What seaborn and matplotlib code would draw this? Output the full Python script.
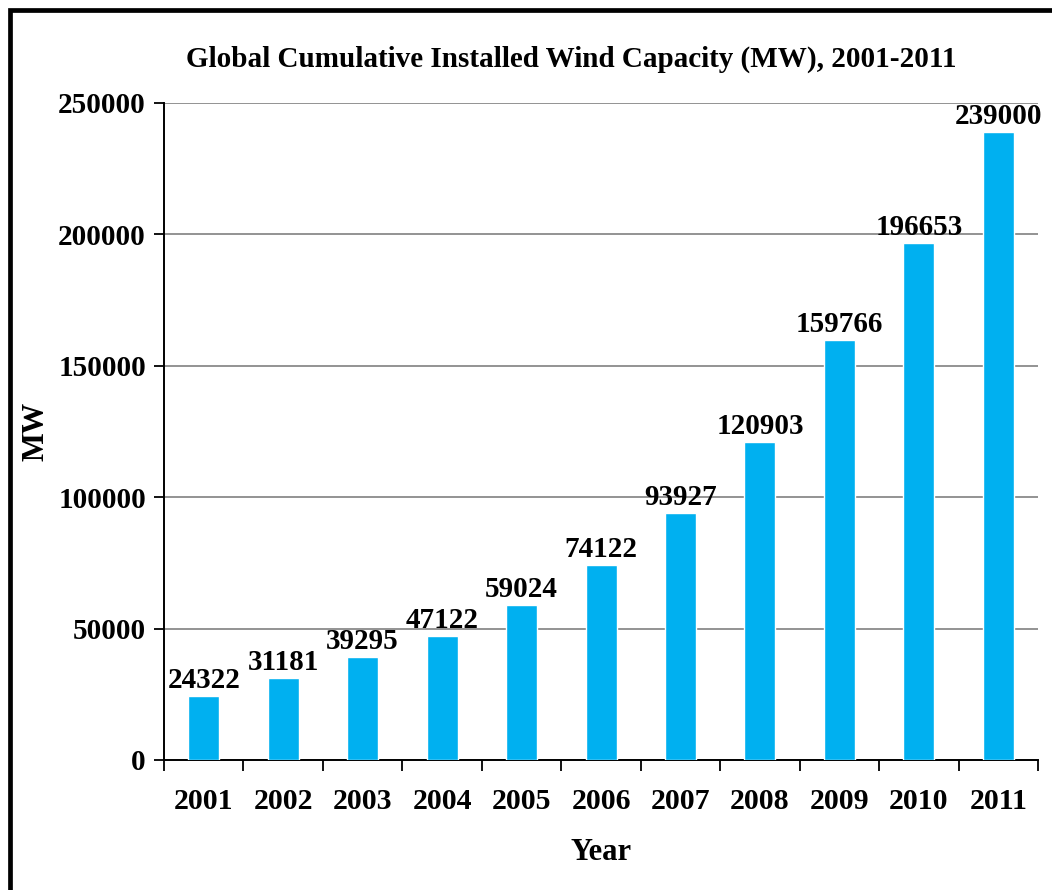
import matplotlib
matplotlib.use("Agg")
import matplotlib.pyplot as plt
import seaborn as sns
import pandas as pd
from matplotlib.patches import Rectangle

years = ["2001", "2002", "2003", "2004", "2005", "2006", "2007", "2008", "2009", "2010", "2011"]
capacity_mw = [24322, 31181, 39295, 47122, 59024, 74122, 93927, 120903, 159766, 196653, 239000]
y_ticks = [0, 50000, 100000, 150000, 200000, 250000]

sns.set_theme(style="white")
plt.rcParams["font.family"] = ["Liberation Serif", "DejaVu Serif"]
plt.rcParams["font.weight"] = "bold"
plt.rcParams["text.color"] = "black"
plt.rcParams["axes.labelcolor"] = "black"
plt.rcParams["xtick.color"] = "black"
plt.rcParams["ytick.color"] = "black"

df = pd.DataFrame({"Year": years, "MW": capacity_mw})

fig = plt.figure(figsize=(10.52, 8.9), dpi=100)
ax = fig.add_axes([0.1559, 0.1461, 0.9867 - 0.1559, 0.8843 - 0.1461])

sns.barplot(data=df, x="Year", y="MW", color="#00B0F0", width=0.39,
            saturation=1, ax=ax, zorder=3)

ax.set_ylim(0, 250000)
ax.set_xlim(-0.5, len(years) - 0.5)
ax.set_yticks(y_ticks)
ax.set_yticklabels([str(t) for t in y_ticks], fontsize=21, fontweight="bold", color="black")
ax.yaxis.grid(True, color="#8a8a8a", linewidth=1.3, zorder=0)
ax.set_axisbelow(True)

# category labels centred on bars, tick marks on the category boundaries
ax.set_xticks(range(len(years)))
ax.set_xticklabels(years, fontsize=21.5, fontweight="bold", color="black")
ax.tick_params(axis="x", which="major", bottom=True, length=0, pad=20)
ax.set_xticks([i - 0.5 for i in range(len(years) + 1)], minor=True)
ax.tick_params(axis="x", which="minor", bottom=True, length=8, width=1.3,
               color="black", direction="out")
ax.tick_params(axis="y", which="major", left=True, length=7, width=1.3,
               color="black", direction="out", pad=6)

for s in ["top", "right"]:
    ax.spines[s].set_visible(False)
for s in ["left", "bottom"]:
    ax.spines[s].set_color("black")
    ax.spines[s].set_linewidth(1.4)

for i, v in enumerate(capacity_mw):
    ax.annotate(str(v), (i, v), xytext=(0, 1.5), textcoords="offset points",
                ha="center", va="bottom", fontsize=21, fontweight="bold",
                color="black", zorder=4)

ax.set_xlabel("Year", fontsize=22, fontweight="bold", labelpad=17, color="black")
ax.set_ylabel("MW", fontsize=22, fontweight="bold", color="black")
ax.yaxis.set_label_coords(-0.146, 0.5)
ax.yaxis.label.set_va("center")

fig.text(0.543, 1 - 59 / 890, "Global Cumulative Installed Wind Capacity (MW), 2001-2011",
         ha="center", va="center", fontsize=21, fontweight="bold", color="black")

fig.patches.append(Rectangle((10 / 1052, -0.1), 1.2, 1.1 - 10 / 890,
                             transform=fig.transFigure, fill=False,
                             edgecolor="black", linewidth=3.4))

fig.savefig("out.png", dpi=100)
